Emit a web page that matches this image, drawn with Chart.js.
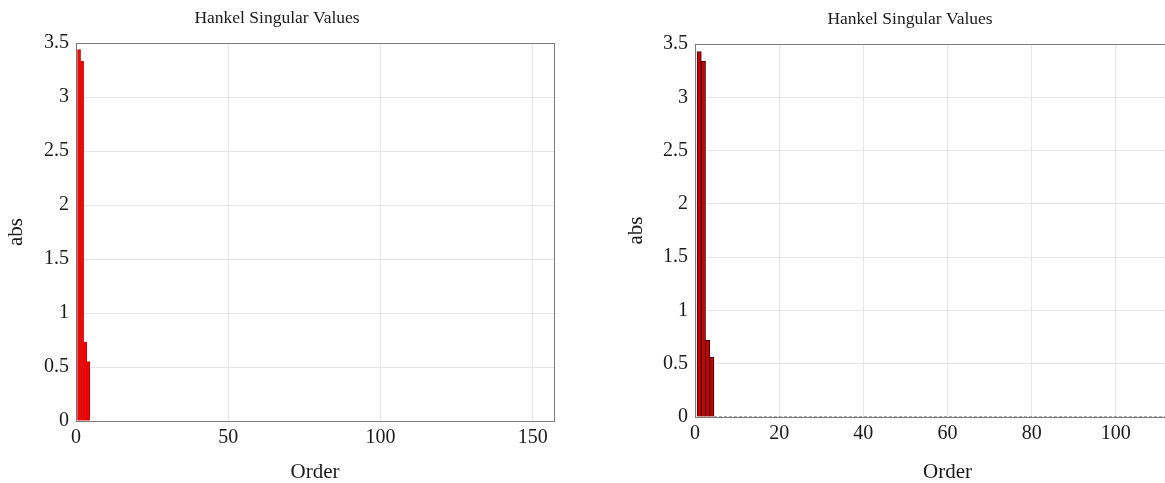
<!DOCTYPE html>
<html>
<head>
<meta charset="utf-8">
<script src="https://cdn.jsdelivr.net/npm/chart.js@4/dist/chart.umd.min.js"></script>
<style>
  html, body { margin: 0; padding: 0; background: #fff; overflow: hidden; }
  body { width: 1165px; height: 483px; position: relative; }
  .box { position: absolute; top: 0; height: 483px; }
  #left { left: 0; width: 630px; }
  #right { left: 620px; width: 610px; }
</style>
</head>
<body>
<div class="box" id="left"><canvas id="hsvLeft"></canvas></div>
<div class="box" id="right"><canvas id="hsvRight"></canvas></div>
<script>
// left panel
const leftOrders = [1, 2, 3, 4];
const leftValues = [3.44, 3.33, 0.73, 0.55];
// right panel
const rightOrders = [1, 2, 3, 4];
const rightValues = [3.43, 3.34, 0.72, 0.56];
// remaining states are ~0, drawn as the dotted edge line along the axis
const tailOrders = [4.5, 120];
const tailValues = [0, 0];

const yTicks = [0, 0.5, 1, 1.5, 2, 2.5, 3, 3.5];

const serif = 'Liberation Serif';
Chart.defaults.font.family = serif;
Chart.defaults.color = '#1a1a1a';

const frame = {
  id: 'frame',
  afterDatasetsDraw(chart) {
    const a = chart.chartArea;
    const ctx = chart.ctx;
    ctx.save();
    ctx.strokeStyle = '#7a7a7a';
    ctx.lineWidth = 1;
    ctx.strokeRect(Math.round(a.left) + 0.5, Math.round(a.top) + 0.5,
      Math.round(a.right - a.left), Math.round(a.bottom - a.top));
    ctx.restore();
  },
};

function pts(xs, ys) {
  return xs.map((x, i) => ({ x: x, y: ys[i] }));
}

function makeOptions(o) {
  return {
    responsive: true,
    maintainAspectRatio: false,
    animation: false,
    layout: { padding: { left: 0, right: o.padRight, top: 0, bottom: 0 } },
    plugins: {
      legend: { display: false },
      tooltip: false,
      title: {
        display: true,
        text: 'Hankel Singular Values',
        font: { size: 17.5, weight: 'normal' },
        padding: { top: o.titleTop, bottom: 14 },
        color: '#1a1a1a',
      },
    },
    scales: {
      x: {
        type: 'linear',
        min: 0,
        max: o.xMax,
        offset: false,
        afterFit(scale) { scale.height = o.xHeight; },
        ticks: {
          stepSize: o.xStep,
          includeBounds: false,
          padding: 5,
          font: { size: 20 },
          maxRotation: 0,
        },
        grid: { color: '#e6e6e6', drawTicks: false, offset: false },
        border: { color: '#7a7a7a' },
        title: {
          display: true,
          text: 'Order',
          font: { size: 21, lineHeight: 1 },
          padding: { top: 0, bottom: 0 },
        },
      },
      y: {
        min: 0,
        max: 3.5,
        afterFit(scale) { scale.width = o.yWidth; },
        afterBuildTicks(scale) { scale.ticks = yTicks.map(v => ({ value: v })); },
        ticks: {
          padding: 7,
          font: { size: 20 },
          callback: v => String(v),
        },
        grid: { color: '#e6e6e6', drawTicks: false },
        border: { color: '#7a7a7a' },
        title: {
          display: true,
          text: 'abs',
          font: { size: 21, lineHeight: 1 },
          padding: { top: 6, bottom: 6 },
        },
      },
    },
  };
}

new Chart(document.getElementById('hsvLeft'), {
  type: 'bar',
  data: {
    datasets: [{
      data: pts(leftOrders, leftValues),
      backgroundColor: '#ff0000',
      borderColor: '#c80000',
      borderWidth: 1,
      borderSkipped: 'start',
      barPercentage: 1,
      categoryPercentage: 1,
    }],
  },
  options: makeOptions({ padRight: 76, titleTop: 8, xMax: 157, xStep: 50, xHeight: 62, yWidth: 76 }),
  plugins: [frame],
});

new Chart(document.getElementById('hsvRight'), {
  type: 'bar',
  data: {
    datasets: [{
      data: pts(rightOrders, rightValues),
      backgroundColor: '#c80000',
      borderColor: '#3a0000',
      borderWidth: 1,
      borderSkipped: 'start',
      barPercentage: 1,
      categoryPercentage: 1,
    }, {
      type: 'line',
      data: pts(tailOrders, tailValues),
      borderColor: '#555',
      borderWidth: 1,
      borderDash: [3, 2],
      pointRadius: 0,
    }],
  },
  options: makeOptions({ padRight: 30, titleTop: 9, xMax: 120, xStep: 20, xHeight: 66, yWidth: 75 }),
  plugins: [frame],
});
</script>
</body>
</html>
